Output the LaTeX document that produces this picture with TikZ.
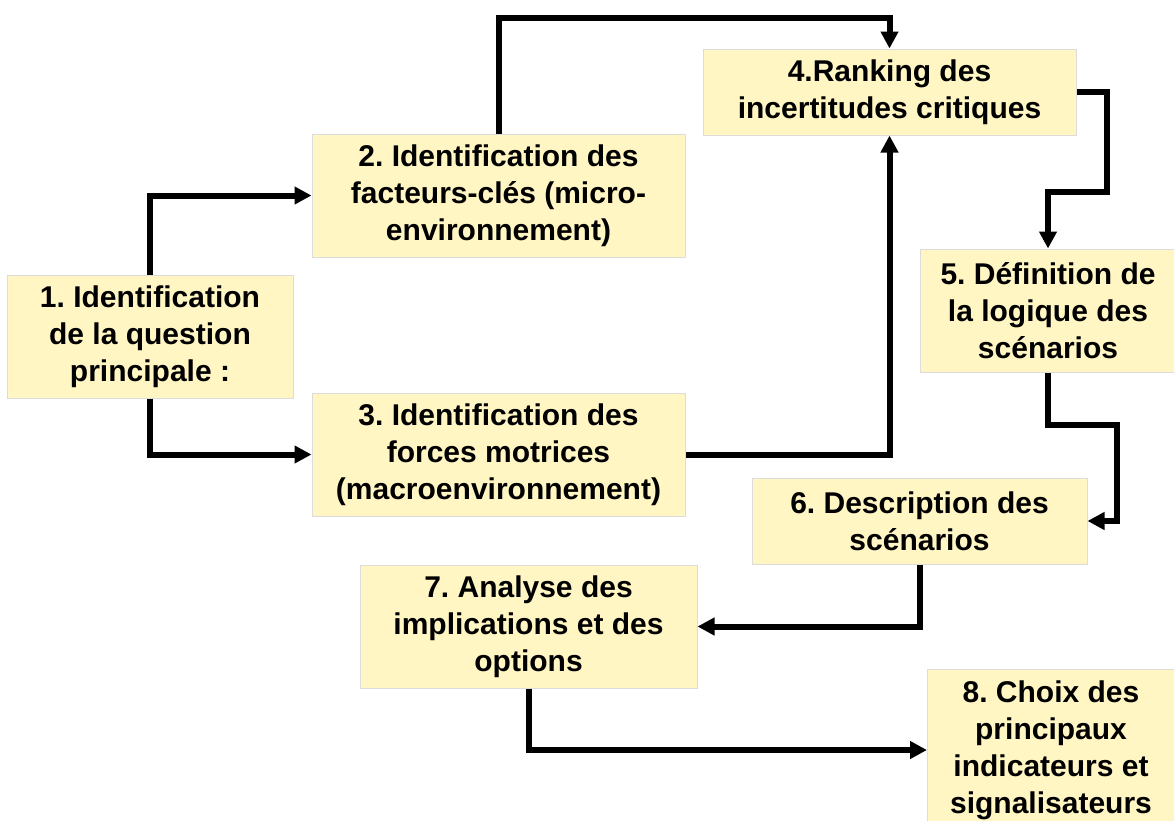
\documentclass[tikz,border=0pt]{standalone}
\usepackage{fontspec}
\setmainfont{Liberation Sans}
\usetikzlibrary{arrows.meta}
\frenchspacing
\definecolor{boxfill}{HTML}{FFF6C4}
\definecolor{boxline}{HTML}{DCDCDC}
\begin{document}
\begin{tikzpicture}[x=1pt,y=-1pt,
  stepbox/.style={draw=boxline,line width=1pt,fill=boxfill,rectangle,
    inner sep=0pt,align=center,
    font=\fontsize{30}{37}\selectfont\bfseries},
  flow/.style={line width=6pt,-{Triangle[length=17pt,width=17pt]}}]
\useasboundingbox (0,0) rectangle (1174,820);
% steps of the scenario method
\node[stepbox,minimum width=286pt,minimum height=123pt] (b1) at (150,336.5)
  {1. Identification\\de la question\\principale :};
\node[stepbox,minimum width=373pt,minimum height=123pt] (b2) at (498.5,195.5)
  {2. Identification des\\facteurs-clés (micro-\\environnement)};
\node[stepbox,minimum width=373pt,minimum height=123pt] (b3) at (498.5,454.5)
  {3. Identification des\\forces motrices\\(macroenvironnement)};
\node[stepbox,minimum width=373pt,minimum height=86pt] (b4) at (889.5,92)
  {4.Ranking des\\incertitudes critiques};
\node[stepbox,minimum width=256pt,minimum height=123pt] (b5) at (1048,310.5)
  {5. Définition de\\la logique des\\scénarios};
\node[stepbox,minimum width=335pt,minimum height=86pt] (b6) at (919.5,521)
  {6. Description des\\scénarios};
\node[stepbox,minimum width=337pt,minimum height=123pt] (b7) at (528.5,626.5)
  {7. Analyse des\\implications et des\\options};
\node[stepbox,minimum width=247pt,minimum height=162pt] (b8) at (1051,750)
  {8. Choix des\\principaux\\indicateurs et\\signalisateurs};
% connectors
\draw[flow] (b1.north) |- (b2.west);
\draw[flow] (b1.south) |- (b3.west);
\draw[flow] (b2.north) -- (498.5,18) -| (b4.north);
\draw[flow] (b3.east) -| (b4.south);
\draw[flow] (b4.east) -| (1107,192) -| (b5.north);
\draw[flow] (b5.south) |- (1117,425) |- (b6.east);
\draw[flow] (b6.south) |- (b7.east);
\draw[flow] (b7.south) |- (b8.west);
\end{tikzpicture}
\end{document}
